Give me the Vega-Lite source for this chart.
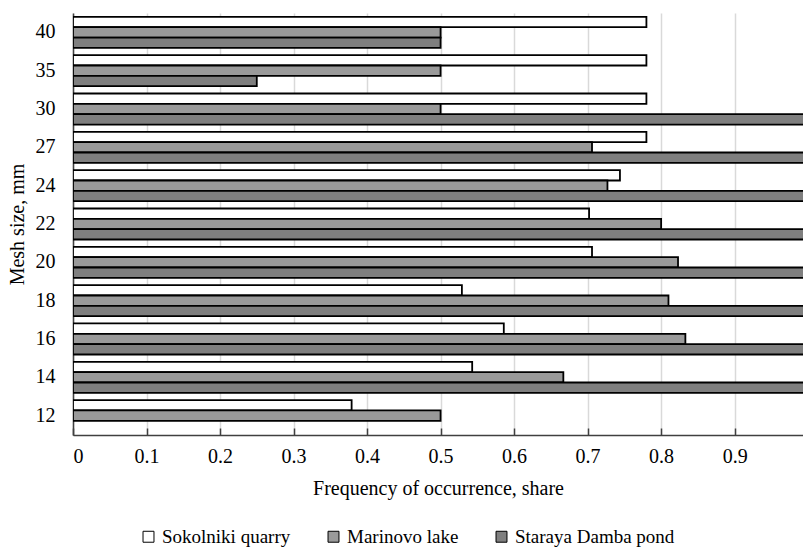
{
  "$schema": "https://vega.github.io/schema/vega-lite/v6.json",
  "width": 730,
  "height": 422,
  "autosize": {"type": "none"},
  "padding": {"left": 73, "top": 13, "right": 0, "bottom": 113},
  "config": {
    "view": {"stroke": null},
    "font": "Liberation Serif"
  },
  "data": {
    "values": [
      {"mesh": "40", "series": "Sokolniki quarry", "value": 0.78},
      {"mesh": "40", "series": "Marinovo lake", "value": 0.5},
      {"mesh": "40", "series": "Staraya Damba pond", "value": 0.5},
      {"mesh": "35", "series": "Sokolniki quarry", "value": 0.78},
      {"mesh": "35", "series": "Marinovo lake", "value": 0.5},
      {"mesh": "35", "series": "Staraya Damba pond", "value": 0.25},
      {"mesh": "30", "series": "Sokolniki quarry", "value": 0.78},
      {"mesh": "30", "series": "Marinovo lake", "value": 0.5},
      {"mesh": "30", "series": "Staraya Damba pond", "value": 1.0},
      {"mesh": "27", "series": "Sokolniki quarry", "value": 0.78},
      {"mesh": "27", "series": "Marinovo lake", "value": 0.706},
      {"mesh": "27", "series": "Staraya Damba pond", "value": 1.0},
      {"mesh": "24", "series": "Sokolniki quarry", "value": 0.744},
      {"mesh": "24", "series": "Marinovo lake", "value": 0.727},
      {"mesh": "24", "series": "Staraya Damba pond", "value": 1.0},
      {"mesh": "22", "series": "Sokolniki quarry", "value": 0.702},
      {"mesh": "22", "series": "Marinovo lake", "value": 0.8},
      {"mesh": "22", "series": "Staraya Damba pond", "value": 1.0},
      {"mesh": "20", "series": "Sokolniki quarry", "value": 0.706},
      {"mesh": "20", "series": "Marinovo lake", "value": 0.823},
      {"mesh": "20", "series": "Staraya Damba pond", "value": 1.0},
      {"mesh": "18", "series": "Sokolniki quarry", "value": 0.529},
      {"mesh": "18", "series": "Marinovo lake", "value": 0.81},
      {"mesh": "18", "series": "Staraya Damba pond", "value": 1.0},
      {"mesh": "16", "series": "Sokolniki quarry", "value": 0.586},
      {"mesh": "16", "series": "Marinovo lake", "value": 0.833},
      {"mesh": "16", "series": "Staraya Damba pond", "value": 1.0},
      {"mesh": "14", "series": "Sokolniki quarry", "value": 0.543},
      {"mesh": "14", "series": "Marinovo lake", "value": 0.667},
      {"mesh": "14", "series": "Staraya Damba pond", "value": 1.0},
      {"mesh": "12", "series": "Sokolniki quarry", "value": 0.379},
      {"mesh": "12", "series": "Marinovo lake", "value": 0.5}
    ]
  },
  "mark": {"type": "bar", "stroke": "black", "strokeWidth": 1.8, "clip": true},
  "encoding": {
    "y": {
      "field": "mesh",
      "type": "nominal",
      "sort": ["40", "35", "30", "27", "24", "22", "20", "18", "16", "14", "12"],
      "scale": {"paddingInner": 0.19, "paddingOuter": 0.1},
      "axis": {
        "title": "Mesh size,  mm",
        "titleFont": "Liberation Serif",
        "titleFontSize": 20,
        "titleFontWeight": "normal",
        "titleColor": "black",
        "titlePadding": 8,
        "labelFont": "Liberation Serif",
        "labelFontSize": 20,
        "labelColor": "black",
        "labelPadding": 18,
        "ticks": false,
        "domainColor": "#404040",
        "domainWidth": 1.5
      }
    },
    "yOffset": {
      "field": "series",
      "type": "nominal",
      "sort": ["Sokolniki quarry", "Marinovo lake", "Staraya Damba pond"],
      "scale": {"paddingInner": 0, "paddingOuter": 0}
    },
    "x": {
      "field": "value",
      "type": "quantitative",
      "scale": {"domain": [0, 0.993], "nice": false, "zero": true},
      "axis": {
        "values": [0, 0.1, 0.2, 0.3, 0.4, 0.5, 0.6, 0.7, 0.8, 0.9],
        "format": ".1~f",
        "title": "Frequency of occurrence, share",
        "titleFont": "Liberation Serif",
        "titleFontSize": 20,
        "titleFontWeight": "normal",
        "titleColor": "black",
        "titlePadding": 12,
        "labelFont": "Liberation Serif",
        "labelFontSize": 20,
        "labelColor": "black",
        "labelPadding": 18,
        "tickSize": -7,
        "tickColor": "#404040",
        "tickWidth": 1.5,
        "domainColor": "#404040",
        "domainWidth": 1.5,
        "grid": true,
        "gridColor": "#d9d9d9",
        "gridWidth": 1.5
      }
    },
    "fill": {
      "field": "series",
      "type": "nominal",
      "scale": {
        "domain": ["Sokolniki quarry", "Marinovo lake", "Staraya Damba pond"],
        "range": ["#ffffff", "#9a9a9a", "#7f7f7f"]
      },
      "legend": {
        "orient": "none",
        "legendX": 66,
        "legendY": 514,
        "direction": "horizontal",
        "title": null,
        "symbolType": "square",
        "symbolSize": 120,
        "symbolStrokeColor": "black",
        "symbolStrokeWidth": 1,
        "labelFont": "Times New Roman",
        "labelFontSize": 19,
        "labelColor": "black",
        "labelOffset": 4,
        "labelLimit": 400,
        "columnPadding": 33
      }
    }
  }
}
